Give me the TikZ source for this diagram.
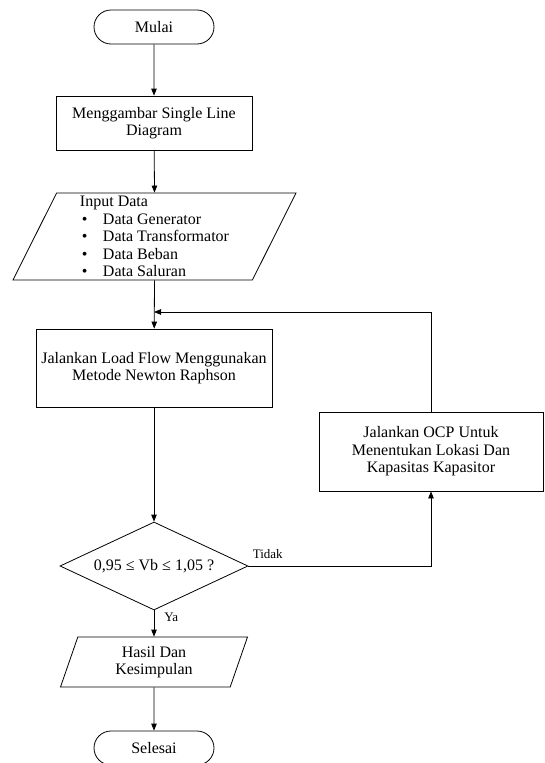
\documentclass[tikz,border=0pt]{standalone}
\usepackage{fontspec}
\setmainfont{Liberation Serif}
\usetikzlibrary{arrows.meta,shapes.geometric,shapes.misc,calc}

\begin{document}
\begin{tikzpicture}[x=1pt,y=-1pt,line width=0.8pt,font=\fontsize{16}{17.5}\selectfont,
  term/.style={rounded rectangle, draw, minimum width=120pt, minimum height=34pt, inner sep=0pt},
  proc/.style={rectangle, draw, align=center, inner sep=0pt},
  io/.style={trapezium, trapezium left angle=61.6, trapezium right angle=118.4, trapezium stretches body, draw, align=center, inner sep=0pt},
  dec/.style={diamond, draw, aspect=2.14, inner sep=0pt, minimum width=188pt, minimum height=88pt},
  lbl/.style={font=\fontsize{13}{15}\selectfont, inner sep=0pt},
  arr/.style={-{Triangle[length=7pt,width=5.5pt]}}]
\useasboundingbox (0,0) rectangle (544,763);
\node (mulai) at (154,27) [term] {Mulai};
\node (gambar) at (154,123) [proc, minimum width=196pt, minimum height=54pt] {Menggambar Single Line\\Diagram};
\node (input) at (154.5,236.5) [io, align=left, minimum width=283pt, minimum height=87pt] {Input Data\\
  \makebox[23pt][l]{\hspace{2pt}\textbullet}Data Generator\\
  \makebox[23pt][l]{\hspace{2pt}\textbullet}Data Transformator\\
  \makebox[23pt][l]{\hspace{2pt}\textbullet}Data Beban\\
  \makebox[23pt][l]{\hspace{2pt}\textbullet}Data Saluran};
\node (load) at (154,368) [proc, minimum width=236pt, minimum height=78pt] {Jalankan Load Flow Menggunakan\\Metode Newton Raphson};
\node (cek) at (154,566) [dec] {0,95 ≤ Vb ≤ 1,05 ?};
\node (ocp) at (431,451.5) [proc, minimum width=224pt, minimum height=79pt] {Jalankan OCP Untuk\\Menentukan Lokasi Dan\\Kapasitas Kapasitor};
\node (hasil) at (154,662) [io, minimum width=187pt, minimum height=50pt] {Hasil Dan\\Kesimpulan};
\node (selesai) at (154,748) [term] {Selesai};
\coordinate (balik) at (154,312);
\draw[arr] (mulai) -- (gambar);
\draw[arr] (gambar) -- (input.north -| input.center);
\draw[arr] (input.south -| input.center) -- (load);
\draw[arr] (load) -- (cek);
\draw[arr] (cek) -- node[lbl, pos=0, anchor=north west, xshift=10pt, yshift=-2pt] {Ya} (hasil.north -| hasil.center);
\draw[arr] (hasil.south -| hasil.center) -- (selesai);
\draw[arr] (cek.east) -| node[lbl, pos=0, anchor=south west, xshift=4pt, yshift=7pt] {Tidak} (ocp.south);
\draw[arr] (ocp.north) |- (balik);
\end{tikzpicture}
\end{document}
